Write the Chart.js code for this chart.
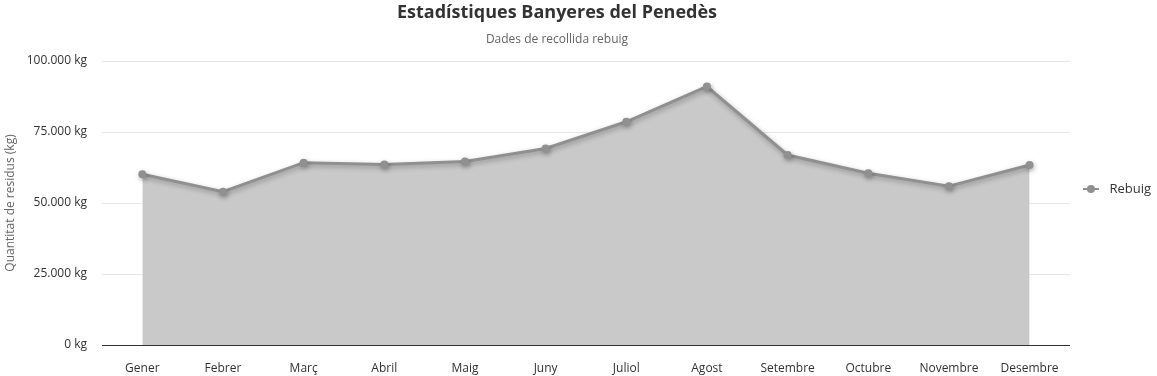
<!DOCTYPE html>
<html>
<head>
<meta charset="utf-8">
<script src="https://cdn.jsdelivr.net/npm/chart.js@4/dist/chart.umd.min.js"></script>
<style>
  html, body { margin: 0; padding: 0; background: #fff; }
  #wrap { width: 1157px; height: 376px; position: relative; }
</style>
</head>
<body>
<div id="wrap"><canvas id="grafic"></canvas></div>
<script>
const mesos = ['Gener', 'Febrer', 'Març', 'Abril', 'Maig', 'Juny', 'Juliol', 'Agost', 'Setembre', 'Octubre', 'Novembre', 'Desembre'];
const rebuig = [60100, 54000, 64200, 63600, 64600, 69200, 78600, 91000, 66900, 60500, 55900, 63400];
const ticksY = [0, 25000, 50000, 75000, 100000];

const colorLinia = '#909090';
const colorArea = '#c9c9c9';
const font = "'Open Sans', 'DejaVu Sans', sans-serif";

// Format 100000 -> "100.000 kg"
function formatKg(v) {
    return v.toString().replace(/\B(?=(\d{3})+(?!\d))/g, '.') + ' kg';
}

// Símbol de la llegenda: línia amb punt
const simbol = document.createElement('canvas');
simbol.width = 16; simbol.height = 10;
(function () {
    const c = simbol.getContext('2d');
    c.strokeStyle = colorLinia; c.lineWidth = 2;
    c.beginPath(); c.moveTo(0, 5); c.lineTo(16, 5); c.stroke();
    c.fillStyle = colorLinia;
    c.beginPath(); c.arc(8, 5, 4, 0, Math.PI * 2); c.fill();
})();

// Ombra sota la línia
const ombra = {
    id: 'ombra',
    beforeDatasetDraw(chart) {
        const ctx = chart.ctx;
        ctx.save();
        ctx.shadowColor = 'rgba(0,0,0,0.3)';
        ctx.shadowBlur = 5;
        ctx.shadowOffsetX = 1;
        ctx.shadowOffsetY = 2;
    },
    afterDatasetDraw(chart) {
        chart.ctx.restore();
    }
};

// Títol i subtítol una mica desplaçats a l'esquerra
const centrarTitol = {
    id: 'centrarTitol',
    afterLayout(chart) {
        chart.boxes.forEach(b => {
            if (b.position === 'top' && b.options && typeof b.options.text === 'string') {
                b.right -= 50;
            }
        });
    }
};

new Chart(document.getElementById('grafic'), {
    type: 'line',
    data: {
        labels: mesos,
        datasets: [{
            label: 'Rebuig',
            data: rebuig,
            borderColor: colorLinia,
            backgroundColor: colorArea,
            pointBackgroundColor: colorLinia,
            pointBorderColor: colorLinia,
            pointBorderWidth: 0,
            pointStyle: 'circle',
            pointRadius: 4,
            borderWidth: 3,
            fill: 'origin',
            tension: 0
        }]
    },
    options: {
        responsive: true,
        maintainAspectRatio: false,
        animation: false,
        layout: { padding: { left: 3, right: -4, top: 2, bottom: 0 } },
        plugins: {
            title: {
                display: true,
                text: 'Estadístiques Banyeres del Penedès',
                color: '#333333',
                font: { family: font, size: 18, weight: 'bold' },
                padding: { top: 0, bottom: 6 }
            },
            subtitle: {
                display: true,
                text: 'Dades de recollida rebuig',
                color: '#666666',
                font: { family: font, size: 12 },
                padding: { top: 3, bottom: 14 }
            },
            legend: {
                position: 'right',
                labels: {
                    usePointStyle: true,
                    pointStyleWidth: 24,
                    color: '#333333',
                    font: { family: font, size: 13 },
                    padding: 9,
                    generateLabels(chart) {
                        const items = Chart.defaults.plugins.legend.labels.generateLabels(chart);
                        items.forEach(it => { it.pointStyle = simbol; });
                        return items;
                    }
                }
            },
            tooltip: { enabled: false }
        },
        scales: {
            x: {
                offset: true,
                grid: { display: false, drawTicks: false },
                border: { display: true, color: '#333333', width: 1 },
                ticks: {
                    color: '#333333',
                    font: { family: font, size: 12 },
                    padding: 16,
                    maxRotation: 0,
                    autoSkip: false
                },
                afterFit(scale) { scale.height = 31; }
            },
            y: {
                min: 0,
                max: 100000,
                afterBuildTicks(scale) {
                    scale.ticks = ticksY.map(v => ({ value: v }));
                },
                grid: { color: '#e6e6e6', drawTicks: false },
                border: { display: false },
                ticks: {
                    color: '#333333',
                    font: { family: font, size: 12 },
                    padding: 15,
                    callback: v => formatKg(v)
                },
                title: {
                    display: true,
                    text: 'Quantitat de residus (kg)',
                    color: '#666666',
                    font: { family: font, size: 12 },
                    padding: { top: 0, bottom: 0 }
                },
                afterFit(scale) { scale.width = 99; }
            }
        }
    },
    plugins: [ombra, centrarTitol]
});
</script>
</body>
</html>
